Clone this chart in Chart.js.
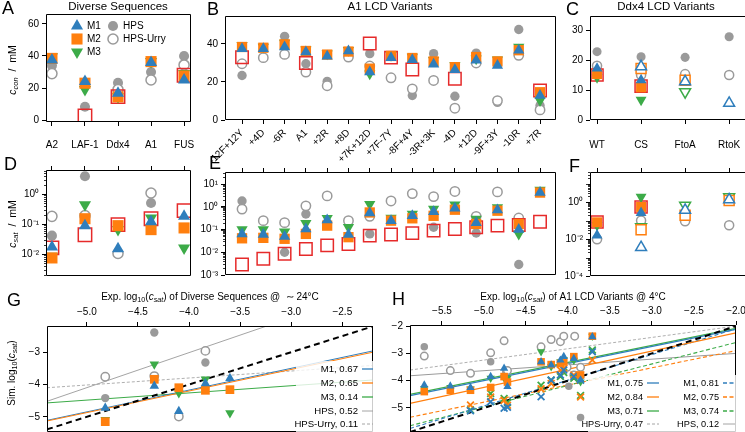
<!DOCTYPE html>
<html lang="en">
<head>
<meta charset="UTF-8">
<title>LCD phase separation panels</title>
<script src="https://cdn.jsdelivr.net/npm/chart.js"></script>
<style>
  body { margin: 0; background: #fff; }
  #fig { position: relative; width: 745px; height: 432px; }
  #fig canvas { position: absolute; left: 0; top: 0; }
</style>
</head>
<body>
<div id="fig"></div>
<script>
// ---------- data ----------
// A / D : diverse sequences (mM)
const divCats = ['A2', 'LAF-1', 'Ddx4', 'A1', 'FUS'];
const divConM1 = [37.5, 24.0, 16.7, 36.0, 25.0];
const divConM2 = [38.5, 23.0, 14.5, 36.5, 27.5];
const divConM3 = [39.5, 19.0, 14.5, 36.5, 29.0];
const divConHps = [34.0, 8.3, 23.3, 30.0, 40.0];
const divConUrry = [29.0, null, 19.0, 25.0, 34.4];
const divConExp = [null, 2.5, 14.6, null, 28.0];

const divSatM1 = [0.017, 0.088, 0.015, 0.12, 0.18];
const divSatM2 = [0.0074, 0.15, 0.088, 0.065, 0.074];
const divSatM3 = [0.0084, 0.44, 0.065, 0.16, 0.016];
const divSatHps = [0.041, 3.9, null, 0.5, null];
const divSatUrry = [0.18, 0.19, 0.0105, 1.08, null];
const divSatExp = [0.016, 0.044, 0.095, 0.15, 0.28];

// B / E : A1 LCD variants
const a1Cats = ['-12F+12Y', '+4D', '-6R', 'A1', '+2R', '+8D', '+7K+12D', '+7F-7Y',
                '-8F+4Y', '-3R+3K', '-4D', '+12D', '-9F+3Y', '-10R', '+7R'];
const a1ConM1 = [37.5, 37.5, 38.4, 35.8, 33.5, 36.3, 25.2, 32.8, 31.7, 29.3, 26.4, 31.4, 28.7, 36.7, 12.9];
const a1ConM2 = [38.4, 38.0, 39.8, 36.3, 34.4, 36.0, 27.0, 33.7, 32.6, 30.8, 27.8, 33.1, 30.8, 36.7, 14.6];
const a1ConM3 = [39.3, 38.4, 40.5, 37.0, 34.9, 36.7, 24.3, 34.0, 33.1, 31.4, 28.7, 32.2, 31.7, 38.4, 10.2];
const a1ConHps = [23.4, null, 44.0, 29.6, 20.3, null, 34.9, null, 12.9, 34.9, 12.5, 35.2, 9.3, 47.6, 7.6];
const a1ConUrry = [29.6, 32.8, 34.5, 25.2, 18.0, 33.1, 28.4, 22.2, 16.4, 20.8, 6.2, 30.0, 10.2, 34.0, 5.3];
const a1ConExp = [33.0, null, null, 30.0, null, null, 40.2, 32.8, 26.6, null, 21.7, null, null, null, 15.5];

const a1SatM1 = [0.064, 0.06, 0.049, 0.106, 0.26, 0.06, 0.53, 0.245, 0.4, 0.6, 0.87, 0.2, 0.72, 0.1, 4.2];
const a1SatM2 = [0.041, 0.043, 0.039, 0.064, 0.148, 0.046, 0.56, 0.245, 0.31, 0.4, 0.74, 0.175, 0.67, 0.175, 4.2];
const a1SatM3 = [0.1, 0.1, 0.08, 0.19, 0.31, 0.125, 1.3, 0.32, 0.48, 0.79, 1.22, 0.29, 0.93, 0.064, 5.5];
const a1SatHps = [1.8, null, 0.01, 0.48, null, null, 0.064, null, null, 0.125, null, 0.07, null, 0.0029, null];
const a1SatUrry = [0.79, 0.245, 0.2, 1.1, 3.0, 0.245, 0.38, 1.8, 3.8, 2.8, 4.7, 0.38, 4.5, 0.32, null];
const a1SatExp = [0.0029, 0.0052, 0.0086, 0.014, 0.020, 0.023, 0.054, 0.060, 0.069, 0.089, 0.106, 0.125, 0.148, 0.158, 0.22];

// C / F : Ddx4 LCD variants (filled = WT-type models, open = variant models)
const ddxCats = ['WT', 'CS', 'FtoA', 'RtoK'];
const ddxConM1 = [17.2, 13.3, null, null];
const ddxConM2 = [15.3, 10.9, null, null];
const ddxConM3 = [14.2, 6.7, null, null];
const ddxConHps = [22.8, 21.1, 20.9, 27.8];
const ddxConUrry = [18.1, 15.0, 15.3, 15.0];
const ddxConExp = [15.0, 11.3, null, null];
const ddxConM1o = [null, 17.8, 12.8, 5.6];
const ddxConM2o = [null, 17.2, 13.3, null];
const ddxConM3o = [null, null, 9.4, null];

const ddxSatM1 = [0.016, 0.26, null, null];
const ddxSatM2 = [0.08, 0.54, null, null];
const ddxSatM3 = [0.056, 1.86, null, null];
const ddxSatUrry = [0.0098, 0.10, 0.091, 0.056];
const ddxSatExp = [0.084, 0.54, null, null];
const ddxSatM1o = [null, 0.0035, 0.36, 1.33];
const ddxSatM2o = [null, 0.032, 0.19, 1.2];
const ddxSatM3o = [null, 0.045, 0.66, 1.86];

// G : sim vs exp log10(csat), diverse sequences
const gExpX = [-4.82, -4.34, -4.10, -3.84, -3.60];
const gSimM1 = [-4.73, -4.05, -4.83, -3.97, -3.81];
const gSimM2 = [-5.15, -3.84, -4.10, -4.18, -4.16];
const gSimM3 = [-5.09, -3.37, -4.26, -3.84, -4.88];
const gSimHps = [-4.42, -2.39, null, -3.32, null];
const gSimUrry = [-3.76, -3.74, -4.99, -2.96, null];
const gFitX = [-5.39, -2.2];
const gFitM1 = [-5.11, -2.96];
const gFitM2 = [-5.13, -3.00];
const gFitM3 = [-4.57, -3.86];
const gFitUrry = [-4.10, -3.41];
const gFitHpsX = [-5.39, -3.24];
const gFitHps = [-4.52, -2.19];
const gLegend = ['M1, 0.67', 'M2, 0.65', 'M3, 0.14', 'HPS, 0.52', 'HPS-Urry, 0.11'];

// H : sim vs exp log10(csat), A1 LCD variants
const hColX = [-5.71, -5.40, -5.16, -4.92, -4.76, -4.72, -4.32, -4.20, -4.09, -4.05, -3.93, -3.85, -3.71];
const hSimM1 = [-4.16, -4.20, -4.25, -3.85, -3.55, -4.22, -3.31, -3.43, -3.25, -3.12, -3.19, -3.98, -2.39];
const hSimM2 = [-4.40, -4.35, -4.35, -4.25, -3.85, -4.05, -3.31, -3.41, -3.37, -3.31, -3.12, -3.79, -2.37];
const hSimM3 = [-4.28, -4.25, -4.30, -3.91, -3.90, -3.91, -2.94, -3.49, -3.30, -3.22, -3.25, -4.04, -2.37];
const hAltM1 = [null, null, -5.10, -4.77, -5.01, -4.97, -4.59, -3.98, -3.79, -3.61, -3.85, -3.98, -2.94];
const hAltM2 = [null, null, -4.89, -4.60, -4.72, -4.90, -4.30, -4.10, -3.61, -3.55, -3.79, -4.60, -3.24];
const hAltM3 = [null, null, -5.07, -4.47, -4.65, -4.80, -4.17, -3.98, -3.85, -3.70, -3.91, -4.54, -2.88];
const hUrryX = [-5.71, -5.40, -5.16, -4.92, -4.76, -4.72, -4.32, -4.20, -4.09, -4.05, -3.92, -4.01, -3.93, -3.85];
const hUrryY = [-3.10, -3.63, -3.73, -2.98, -2.54, -3.63, -2.76, -2.49, -2.57, -2.37, -2.37, -3.51, -3.79, -3.51];
const hHpsX = [-5.71, -4.92, -4.74, -3.99, -3.85];
const hHpsY = [-2.76, -3.31, -3.67, -4.20, -5.35];
const hFitX = [-5.88, -2.0];
const hFitM1 = [-4.55, -2.12];
const hFitM2 = [-4.83, -2.25];
const hFitM3 = [-4.50, -2.08];
const hFitM1b = [-5.75, -2.10];
const hFitM2b = [-5.34, -2.90];
const hFitM3b = [-5.65, -2.60];
const hFitUrry = [-3.61, -2.00];
const hFitHps = [-3.82, -3.00];
const hLegendA = ['M1, 0.75', 'M2, 0.84', 'M3, 0.71', 'HPS-Urry, 0.47'];
const hLegendB = ['M1, 0.81', 'M2, 0.75', 'M3, 0.74', 'HPS, 0.12'];

// ---------- styling ----------
const FONT = "'Liberation Sans', Arial, Helvetica, sans-serif";
Chart.defaults.font.family = FONT;
Chart.defaults.font.size = 10;
Chart.defaults.color = '#000';

const W = 745, H = 432;
const BLUE = '#2f7ebc', ORANGE = '#ff7f0e', GREEN = '#3cab48', GRAY = '#9a9a9a', RED = '#e62a2a';

const LOOK = {
  M1:   { shape: 'triangle', color: BLUE },
  M2:   { shape: 'rect', color: ORANGE, k: 1.12 },
  M3:   { shape: 'triangle', rot: 180, color: GREEN },
  HPS:  { shape: 'circle', color: GRAY, k: 0.72 },
  Urry: { shape: 'circle', color: GRAY, k: 0.72, open: '#fff' },
  Exp:  { shape: 'rect', color: RED, k: 1.35, open: 'rgba(0,0,0,0)' },
  M1o:  { shape: 'triangle', color: BLUE, open: '#fff' },
  M2o:  { shape: 'rect', color: ORANGE, k: 1.12, open: '#fff' },
  M3o:  { shape: 'triangle', rot: 180, color: GREEN, open: '#fff' },
  M1x:  { shape: 'crossRot', color: BLUE, cross: true },
  M2x:  { shape: 'crossRot', color: ORANGE, cross: true },
  M3x:  { shape: 'crossRot', color: GREEN, cross: true },
};

const SUP = { '-': '\u207B', '0': '\u2070', '1': '\u00B9', '2': '\u00B2', '3': '\u00B3', '4': '\u2074' };
const powLabel = v => '10' + String(Math.round(Math.log10(v))).split('').map(c => SUP[c]).join('');
const minus = s => String(s).replace('-', '\u2212');
const idx = arr => arr.map((_, i) => i);

// scatter dataset from one series
function pts(xs, ys, look, s) {
  const data = [];
  ys.forEach((y, i) => { if (y != null) data.push({ x: xs[i], y: y }); });
  const bw = look.open ? 1.5 : look.cross ? 1.8 : 0;
  return {
    data: data, showLine: false,
    pointStyle: look.shape, rotation: look.rot || 0,
    pointRadius: s * (look.k || 1),
    pointBackgroundColor: look.open || look.color,
    pointBorderColor: look.color,
    pointBorderWidth: bw,
  };
}

// straight fit line between two read-off end points
function fit(xs, ys, color, width, dash) {
  return {
    data: xs.map((x, i) => ({ x: x, y: ys[i] })),
    showLine: true, pointRadius: 0,
    borderColor: color, borderWidth: width, borderDash: dash || [],
  };
}

function axis(o) {
  return {
    type: o.type || 'linear',
    position: o.pos,
    min: o.min, max: o.max,
    border: { display: false },
    grid: { display: true, drawOnChartArea: false, drawTicks: true, tickLength: 4, color: '#000', lineWidth: 1 },
    ticks: {
      display: o.labels !== false,
      autoSkip: false,
      maxRotation: o.rot || 0, minRotation: o.rot || 0,
      padding: o.pad == null ? 3 : o.pad,
      color: '#000', font: { size: 10 },
      callback: o.fmt || (v => v),
    },
    afterBuildTicks: s => { s.ticks = o.ticks.map(v => ({ value: v })); },
    afterFit: s => {
      s.paddingLeft = s.paddingRight = s.paddingTop = s.paddingBottom = 0;
      if (s.isHorizontal()) s.height = o.size; else s.width = o.size;
    },
  };
}

// text with italic / subscript pieces
function drawRich(ctx, t) {
  const parts = typeof t.parts === 'string' ? [[t.parts, '']] : t.parts;
  ctx.save();
  ctx.translate(t.x, t.y);
  if (t.rot) ctx.rotate(t.rot);
  ctx.fillStyle = '#000';
  ctx.textBaseline = 'middle';
  ctx.textAlign = 'left';
  const fnt = st => (st.includes('i') ? 'italic ' : '') + (st.includes('s') ? t.size * 0.72 : t.size) + 'px ' + FONT;
  let w = 0;
  const ws = parts.map(p => { ctx.font = fnt(p[1]); const m = ctx.measureText(p[0]).width; w += m; return m; });
  let x = t.align === 'center' ? -w / 2 : t.align === 'right' ? -w : 0;
  parts.forEach((p, i) => {
    ctx.font = fnt(p[1]);
    ctx.fillText(p[0], x, p[1].includes('s') ? t.size * 0.3 : 0);
    x += ws[i];
  });
  ctx.restore();
}

function mark(ctx, look, s, x, y) {
  ctx.save();
  const bw = look.open ? 1.5 : 0;
  ctx.fillStyle = look.open || look.color;
  ctx.strokeStyle = look.color;
  ctx.lineWidth = bw || 1;
  Chart.helpers.drawPoint(ctx, { pointStyle: look.shape, rotation: look.rot || 0, radius: s * (look.k || 1), borderWidth: bw }, x, y);
  ctx.restore();
}

function drawDeco(chart, d) {
  const ctx = chart.ctx, a = chart.chartArea;
  ctx.save();
  // minor ticks on log axes
  if (d.minor) {
    const s = chart.scales.y;
    ctx.strokeStyle = '#000'; ctx.lineWidth = 0.8;
    ctx.beginPath();
    for (let k = Math.floor(Math.log10(s.min)); k <= Math.ceil(Math.log10(s.max)); k++) {
      for (let m = 1; m <= 9; m++) {
        const v = m * Math.pow(10, k);
        if (v < s.min || v > s.max) continue;
        const py = Math.round(s.getPixelForValue(v)) + 0.5;
        ctx.moveTo(a.left - (m === 1 ? 4 : 2), py);
        ctx.lineTo(a.left, py);
      }
    }
    ctx.stroke();
  }
  // axes frame
  const L = Math.round(a.left) + 0.5, R = Math.round(a.right) - 0.5;
  const T = Math.round(a.top) + 0.5, B = Math.round(a.bottom) - 0.5;
  ctx.strokeStyle = '#000'; ctx.lineWidth = 1; ctx.setLineDash([]);
  ctx.beginPath();
  if (d.noRight) {
    ctx.moveTo(R + 2, T); ctx.lineTo(L, T); ctx.lineTo(L, B); ctx.lineTo(R + 2, B);
  } else {
    ctx.rect(L, T, R - L, B - T);
  }
  ctx.stroke();
  // legend
  if (d.legendBg) {
    ctx.fillStyle = 'rgba(255,255,255,0.8)';
    ctx.fillRect(d.legendBg[0], d.legendBg[1], d.legendBg[2], d.legendBg[3]);
  }
  (d.markers || []).forEach(m => {
    mark(ctx, m.look, m.s, m.x, m.y);
    drawRich(ctx, { x: m.x + 10, y: m.y, size: 10, parts: m.text });
  });
  (d.lines || []).forEach(l => {
    ctx.strokeStyle = l.color; ctx.lineWidth = l.w; ctx.setLineDash(l.dash || []);
    ctx.beginPath(); ctx.moveTo(l.x0, l.y); ctx.lineTo(l.x1, l.y); ctx.stroke();
    ctx.setLineDash([]);
    drawRich(ctx, { x: l.x0 - 4, y: l.y, size: d.legendSize || 10, parts: l.text, align: 'right' });
  });
  (d.texts || []).forEach(t => drawRich(ctx, t));
  ctx.restore();
}

const fig = document.getElementById('fig');

function panel(box, xs, ys, datasets, deco) {
  const cv = document.createElement('canvas');
  cv.width = W; cv.height = H;
  fig.appendChild(cv);
  const xTop = xs.pos === 'top';
  return new Chart(cv, {
    type: 'scatter',
    data: { datasets: datasets },
    options: {
      responsive: false,
      animation: false,
      events: [],
      layout: {
        autoPadding: false,
        padding: {
          left: box[0] - ys.size,
          right: W - box[2],
          top: xTop ? box[1] - xs.size : box[1],
          bottom: xTop ? H - box[3] : H - box[3] - xs.size,
        },
      },
      plugins: { legend: { display: false }, tooltip: { enabled: false } },
      scales: { x: axis(xs), y: axis(ys) },
    },
    plugins: [{ id: 'deco', afterDraw: chart => drawDeco(chart, deco) }],
  });
}

const letter = (ch, x, y) => ({ x: x, y: y, size: 18, parts: ch });
const cSat = [['c', 'i'], ['sat', 'is']];
const catFmt = cats => (v, i) => cats[i];

// ---------- A ----------
const dI = idx(divCats);
panel([46, 14, 191, 122],
  { pos: 'bottom', min: -0.18, max: 4.21, ticks: dI, fmt: catFmt(divCats), size: 30, pad: 13 },
  { min: -1.25, max: 66.25, ticks: [0, 20, 40, 60], size: 30 },
  [pts(dI, divConM1, LOOK.M1, 7), pts(dI, divConM2, LOOK.M2, 7), pts(dI, divConM3, LOOK.M3, 7),
   pts(dI, divConExp, LOOK.Exp, 7), pts(dI, divConUrry, LOOK.Urry, 7), pts(dI, divConHps, LOOK.HPS, 7)],
  {
    texts: [letter('A', 2, 9),
      { x: 118, y: 7, size: 11.5, parts: 'Diverse Sequences', align: 'center' },
      { x: 13, y: 70, size: 10.5, rot: -Math.PI / 2, align: 'center', parts: [['c', 'i'], ['con', 'is'], ['  /  mM', '']] }],
    markers: [
      { look: LOOK.M1, s: 7, x: 77, y: 26, text: 'M1' },
      { look: LOOK.M2, s: 7, x: 77, y: 39, text: 'M2' },
      { look: LOOK.M3, s: 7, x: 77, y: 52, text: 'M3' },
      { look: LOOK.HPS, s: 7, x: 113, y: 26, text: 'HPS' },
      { look: LOOK.Urry, s: 7, x: 113, y: 39, text: 'HPS-Urry' }],
  });

// ---------- B ----------
const aI = idx(a1Cats);
panel([225, 16, 556, 120],
  { pos: 'bottom', min: -0.8, max: 14.75, ticks: aI, fmt: catFmt(a1Cats), rot: 45, size: 48, pad: 3 },
  { min: 0, max: 54.7, ticks: [0, 20, 40], size: 30 },
  [pts(aI, a1ConM1, LOOK.M1, 6.5), pts(aI, a1ConM2, LOOK.M2, 6.5), pts(aI, a1ConM3, LOOK.M3, 6.5),
   pts(aI, a1ConExp, LOOK.Exp, 6.5), pts(aI, a1ConUrry, LOOK.Urry, 6.5), pts(aI, a1ConHps, LOOK.HPS, 6.5)],
  { texts: [letter('B', 207, 10), { x: 390, y: 7, size: 11.5, parts: 'A1 LCD Variants', align: 'center' }] });

// ---------- C ----------
const cI = idx(ddxCats);
panel([590, 16, 745, 120],
  { pos: 'bottom', min: -0.16, max: 3.36, ticks: cI, fmt: catFmt(ddxCats), size: 30, pad: 15 },
  { min: 0, max: 34.7, ticks: [0, 10, 20, 30], size: 30 },
  [pts(cI, ddxConM1, LOOK.M1, 6.3), pts(cI, ddxConM1o, LOOK.M1o, 6.3), pts(cI, ddxConM2, LOOK.M2, 6.3),
   pts(cI, ddxConM2o, LOOK.M2o, 6.3), pts(cI, ddxConM3, LOOK.M3, 6.3), pts(cI, ddxConM3o, LOOK.M3o, 6.3),
   pts(cI, ddxConExp, LOOK.Exp, 6.3), pts(cI, ddxConUrry, LOOK.Urry, 6.3), pts(cI, ddxConHps, LOOK.HPS, 6.3)],
  { noRight: true, texts: [letter('C', 566, 10), { x: 666, y: 7, size: 11.5, parts: 'Ddx4 LCD Variants', align: 'center' }] });

// ---------- D ----------
panel([46, 170, 191, 276],
  { pos: 'top', min: -0.18, max: 4.21, ticks: dI, labels: false, size: 5 },
  { type: 'logarithmic', min: 0.00185, max: 6.31, ticks: [0.01, 0.1, 1], fmt: powLabel, size: 30 },
  [pts(dI, divSatM1, LOOK.M1, 7), pts(dI, divSatM2, LOOK.M2, 7), pts(dI, divSatM3, LOOK.M3, 7),
   pts(dI, divSatExp, LOOK.Exp, 7), pts(dI, divSatUrry, LOOK.Urry, 7), pts(dI, divSatHps, LOOK.HPS, 7)],
  {
    minor: true,
    texts: [letter('D', 4, 165),
      { x: 13, y: 224, size: 10.5, rot: -Math.PI / 2, align: 'center', parts: cSat.concat([['  /  mM', '']]) }],
  });

// ---------- E ----------
panel([225, 172, 556, 275],
  { pos: 'top', min: -0.8, max: 14.75, ticks: aI, labels: false, size: 5 },
  { type: 'logarithmic', min: 0.001, max: 33.7, ticks: [0.001, 0.01, 0.1, 1, 10], fmt: powLabel, size: 30 },
  [pts(aI, a1SatM1, LOOK.M1, 6.5), pts(aI, a1SatM2, LOOK.M2, 6.5), pts(aI, a1SatM3, LOOK.M3, 6.5),
   pts(aI, a1SatExp, LOOK.Exp, 6.5), pts(aI, a1SatUrry, LOOK.Urry, 6.5), pts(aI, a1SatHps, LOOK.HPS, 6.5)],
  { minor: true, texts: [letter('E', 209, 164)] });

// ---------- F ----------
panel([590, 172, 745, 276],
  { pos: 'top', min: -0.16, max: 3.36, ticks: cI, labels: false, size: 5 },
  { type: 'logarithmic', min: 0.0001, max: 41.9, ticks: [0.0001, 0.01, 1], fmt: powLabel, size: 30 },
  [pts(cI, ddxSatM1, LOOK.M1, 6.3), pts(cI, ddxSatM1o, LOOK.M1o, 6.3), pts(cI, ddxSatM2, LOOK.M2, 6.3),
   pts(cI, ddxSatM2o, LOOK.M2o, 6.3), pts(cI, ddxSatM3, LOOK.M3, 6.3), pts(cI, ddxSatM3o, LOOK.M3o, 6.3),
   pts(cI, ddxSatExp, LOOK.Exp, 6.3), pts(cI, ddxSatUrry, LOOK.Urry, 6.3)],
  { minor: true, noRight: true, texts: [letter('F', 569, 167)] });

// ---------- G ----------
const gRows = [369, 383, 397, 411, 424];
const gCols = [BLUE, ORANGE, GREEN, GRAY, GRAY];
panel([47, 326, 373, 432],
  { pos: 'top', min: -5.39, max: -2.2, ticks: [-5, -4.5, -4, -3.5, -3, -2.5], fmt: v => minus(v.toFixed(1)), size: 22, pad: 4 },
  { min: -5.47, max: -2.19, ticks: [-5, -4, -3], fmt: v => minus(v), size: 30 },
  [pts(gExpX, gSimM1, LOOK.M1, 5.5), pts(gExpX, gSimM2, LOOK.M2, 5.5), pts(gExpX, gSimM3, LOOK.M3, 5.5),
   pts(gExpX, gSimUrry, LOOK.Urry, 5.8), pts(gExpX, gSimHps, LOOK.HPS, 5.8),
   fit(gFitX, gFitX, '#000', 2, [6, 4]),
   fit(gFitX, gFitM2, ORANGE, 1), fit(gFitX, gFitM1, BLUE, 1), fit(gFitX, gFitM3, GREEN, 1),
   fit(gFitHpsX, gFitHps, GRAY, 0.9), fit(gFitX, gFitUrry, GRAY, 0.8, [3, 2])],
  {
    legendBg: [296, 361, 77, 71],
    legendSize: 9.6,
    lines: gLegend.map((t, i) => ({ text: t, y: gRows[i], x0: 362, x1: 373, color: gCols[i], w: i < 3 ? 1.3 : 0.9, dash: i === 4 ? [3, 2] : [] })),
    texts: [letter('G', 7, 301),
      { x: 210, y: 297, size: 10, align: 'center',
        parts: [['Exp. log', ''], ['10', 's'], ['(', '']].concat(cSat, [[') of Diverse Sequences @  \u223C 24\u00B0C', '']]) },
      { x: 12, y: 373, size: 10, rot: -Math.PI / 2, align: 'center',
        parts: [['Sim. log', ''], ['10', 's'], ['(', '']].concat(cSat, [[')', '']]) }],
  });

// ---------- H ----------
const hRows = [383, 397, 411, 424];
const hColA = [BLUE, ORANGE, GREEN, GRAY];
const hColB = [BLUE, ORANGE, GREEN, GRAY];
panel([410, 325, 736, 432],
  { pos: 'top', min: -5.88, max: -2.0, ticks: [-5.5, -5, -4.5, -4, -3.5, -3, -2.5, -2], fmt: v => minus(v.toFixed(1)), size: 22, pad: 4 },
  { min: -5.88, max: -1.96, ticks: [-5, -4, -3, -2], fmt: v => minus(v), size: 30 },
  [pts(hColX, hSimM1, LOOK.M1, 4.8), pts(hColX, hSimM2, LOOK.M2, 4.8), pts(hColX, hSimM3, LOOK.M3, 4.8),
   pts(hColX, hAltM1, LOOK.M1x, 4.8), pts(hColX, hAltM2, LOOK.M2x, 4.8), pts(hColX, hAltM3, LOOK.M3x, 4.8),
   pts(hUrryX, hUrryY, LOOK.Urry, 5.2), pts(hHpsX, hHpsY, LOOK.HPS, 5.2),
   fit(hFitX, hFitX, '#000', 2, [6, 4]),
   fit(hFitX, hFitM1, BLUE, 1.3), fit(hFitX, hFitM2, ORANGE, 1.3), fit(hFitX, hFitM3, GREEN, 1.3),
   fit(hFitX, hFitM1b, BLUE, 1.1, [4, 2.5]), fit(hFitX, hFitM2b, ORANGE, 1.1, [4, 2.5]), fit(hFitX, hFitM3b, GREEN, 1.1, [4, 2.5]),
   fit(hFitX, hFitUrry, GRAY, 0.8, [3, 2]), fit(hFitX, hFitHps, GRAY, 1)],
  {
    legendBg: [588, 375, 148, 57],
    legendSize: 9.2,
    lines: hLegendA.map((t, i) => ({ text: t, y: hRows[i], x0: 647, x1: 659, color: hColA[i], w: i < 3 ? 1.3 : 0.9, dash: i === 3 ? [3, 2] : [] }))
      .concat(hLegendB.map((t, i) => ({ text: t, y: hRows[i], x0: 723, x1: 735, color: hColB[i], w: i < 3 ? 1.3 : 0.9, dash: i < 3 ? [4, 2.5] : [] }))),
    texts: [letter('H', 392, 300),
      { x: 573, y: 297, size: 10, align: 'center',
        parts: [['Exp. log', ''], ['10', 's'], ['(', '']].concat(cSat, [[') of A1 LCD Variants @ 4\u00B0C', '']]) }],
  });
</script>
</body>
</html>
